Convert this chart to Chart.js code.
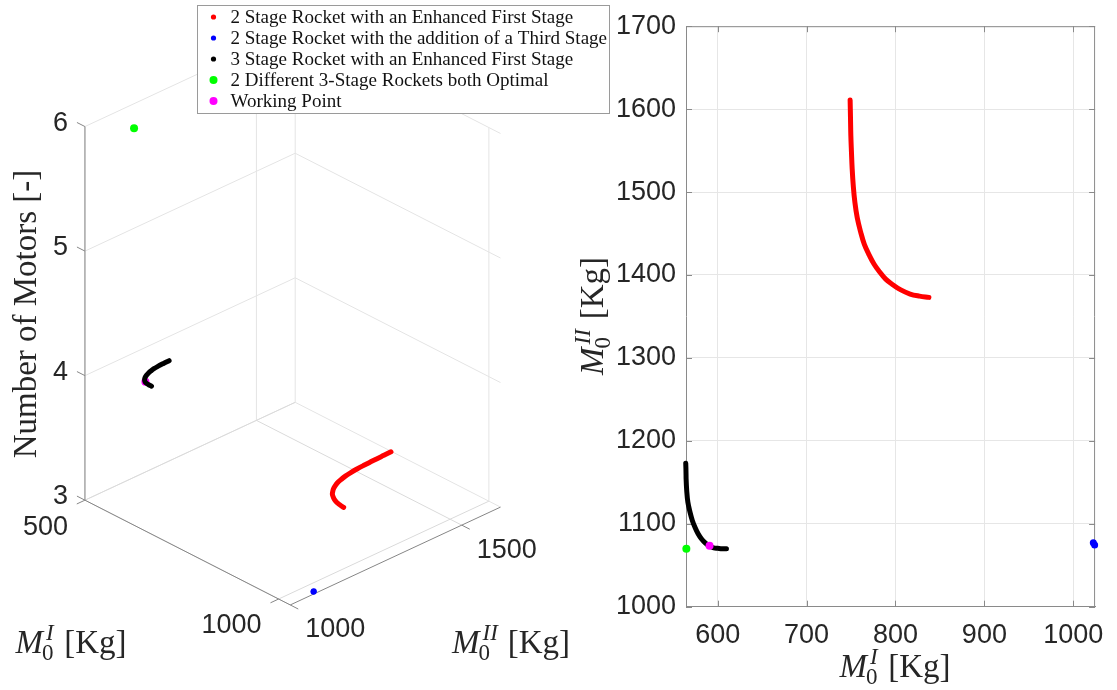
<!DOCTYPE html>
<html><head><meta charset="utf-8">
<script src="https://cdn.jsdelivr.net/npm/chart.js@4.4.1/dist/chart.umd.min.js"></script>
<style>
html,body{margin:0;padding:0;background:#fff;}
#wrap{position:relative;width:1117px;height:690px;overflow:hidden;background:#fff;}
canvas{position:absolute;top:0;}
#c3d{left:0;}
#c2d{left:560px;}
</style></head><body>
<div id="wrap"><canvas id="c3d" width="620" height="690"></canvas><canvas id="c2d" width="557" height="690"></canvas></div>
<script>
// ---------------- DATA ----------------
const seriesNames = [
  '2 Stage Rocket with an Enhanced First Stage',
  '2 Stage Rocket with the addition of a Third Stage',
  '3 Stage Rocket with an Enhanced First Stage',
  '2 Different 3-Stage Rockets both Optimal',
  'Working Point'
];
const seriesColors = ['#ff0000', '#0000ff', '#000000', '#00ff00', '#ff00ff'];

const redM0I  = [749.0, 749.4, 749.8, 750.5, 751.3, 752.5, 754.3, 757.0, 760.8, 765.0, 770.5, 776.0, 782.0, 789.0, 797.4, 806.0, 816.5, 827.0, 837.6];
const redM0II = [1611, 1590, 1568, 1548, 1528, 1508, 1488, 1469, 1452, 1437, 1424, 1413, 1404, 1395, 1388, 1382, 1377, 1374.5, 1373];
const redMotors = 3;

const blueM0I  = [1022.5, 1024.0];
const blueM0II = [1077, 1074.5];
const blueMotors = 3;

const blackM0I  = [564.1, 564.5, 565.2, 566.5, 568.9, 571.5, 574.4, 578.0, 581.7, 586.0, 590.9, 595.5, 600.0, 605.0, 609.9];
const blackM0II = [1173, 1155, 1140, 1126, 1114, 1104, 1096, 1088, 1082, 1077, 1073, 1071, 1070.5, 1070, 1070];
const blackMotors = 4;

const greenM0I  = [564.8];
const greenM0II = [1070];
const greenMotors = 6;

const magentaM0I  = [590.9];
const magentaM0II = [1073.6];
const magentaMotors = 4;

const xTicks2D = [600, 700, 800, 900, 1000];
const yTicks2D = [1000, 1100, 1200, 1300, 1400, 1500, 1600, 1700];
const m0iTicks3D = [500, 1000];
const m0iiTicks3D = [1000, 1500];
const motorTicks3D = [3, 4, 5, 6];

// ---------------- LAYOUT ----------------
const LIM3 = { m0i: [500, 1030], m0ii: [1000, 1613], mot: [3, 6] };
const BOX = { o: [82, 502], eu: [208, 106], ev: [213, -99], ew: [0, -378] };
const SERIF = '"Liberation Serif", "Times New Roman", serif';
const SANS = '"Liberation Sans", Arial, sans-serif';
const TXT = '#262626';

function uvw(a, b, m) {
  return [(a - LIM3.m0i[0]) / (LIM3.m0i[1] - LIM3.m0i[0]),
          (b - LIM3.m0ii[0]) / (LIM3.m0ii[1] - LIM3.m0ii[0]),
          (m - LIM3.mot[0]) / (LIM3.mot[1] - LIM3.mot[0])];
}
function projUVW(u, v, w) {
  return { x: BOX.o[0] + u * BOX.eu[0] + v * BOX.ev[0] + w * BOX.ew[0],
           y: BOX.o[1] + u * BOX.eu[1] + v * BOX.ev[1] + w * BOX.ew[1] };
}
function proj3(a, b, m) { const t = uvw(a, b, m); return projUVW(t[0], t[1], t[2]); }
function zip3(a, b, m) { return a.map((v, i) => proj3(v, b[i], m)); }
function zip2(a, b) { return a.map((v, i) => ({ x: v, y: b[i] })); }

function drawMath(ctx, x, y, rot, size, sup, sub) {
  const s = Math.round(size * 0.7);
  ctx.save();
  ctx.font = `italic ${size}px ${SERIF}`; const wM = ctx.measureText('M').width;
  ctx.font = `italic ${s}px ${SERIF}`; const wSup = ctx.measureText(sup).width;
  ctx.font = `${s}px ${SERIF}`; const wSub = ctx.measureText(sub).width;
  ctx.font = `${size}px ${SERIF}`; const wKg = ctx.measureText('[Kg]').width;
  const wScript = Math.max(wSup + 3, wSub);
  const gap = size * 0.3;
  const total = wM + wScript + gap + wKg;
  ctx.translate(x, y); ctx.rotate(rot);
  ctx.fillStyle = TXT; ctx.textAlign = 'left'; ctx.textBaseline = 'alphabetic';
  let cx = -total / 2;
  ctx.font = `italic ${size}px ${SERIF}`; ctx.fillText('M', cx, 0); cx += wM;
  ctx.font = `italic ${s}px ${SERIF}`; ctx.fillText(sup, cx + 3, -size * 0.38);
  ctx.font = `${s}px ${SERIF}`; ctx.fillText(sub, cx - 1, size * 0.2);
  cx += wScript + gap;
  ctx.font = `${size}px ${SERIF}`; ctx.fillText('[Kg]', cx, 0);
  ctx.restore();
}

// ---------------- 3D CHART ----------------
const box3D = {
  id: 'box3D',
  beforeDatasetsDraw(chart) {
    const ctx = chart.ctx, sx = chart.scales.x, sy = chart.scales.y;
    const P = (u, v, w) => { const p = projUVW(u, v, w); return [sx.getPixelForValue(p.x), sy.getPixelForValue(p.y)]; };
    const line = (a, b, col, lw) => { ctx.beginPath(); ctx.strokeStyle = col; ctx.lineWidth = lw || 1; ctx.moveTo(a[0], a[1]); ctx.lineTo(b[0], b[1]); ctx.stroke(); };
    const G = '#e4e4e4', A = '#868686';
    ctx.save();
    const uT = m0iTicks3D.map(t => uvw(t, LIM3.m0ii[0], LIM3.mot[0])[0]);
    const vT = m0iiTicks3D.map(t => uvw(LIM3.m0i[0], t, LIM3.mot[0])[1]);
    const wT = motorTicks3D.map(t => uvw(LIM3.m0i[0], LIM3.m0ii[0], t)[2]);
    wT.forEach(w => line(P(0, 0, w), P(0, 1, w), G));
    vT.forEach(v => line(P(0, v, 0), P(0, v, 1), G));
    wT.forEach(w => line(P(0, 1, w), P(1, 1, w), G));
    uT.forEach(u => line(P(u, 1, 0), P(u, 1, 1), G));
    uT.forEach(u => line(P(u, 0, 0), P(u, 1, 0), '#dadada'));
    vT.forEach(v => line(P(0, v, 0), P(1, v, 0), '#dadada'));
    line(P(0, 0, 0), P(0, 0, 1), A);
    line(P(0, 0, 0), P(1, 0, 0), A);
    line(P(1, 0, 0), P(1, 1, 0), A);
    const nu = Math.hypot(BOX.eu[0], BOX.eu[1]), nv = Math.hypot(BOX.ev[0], BOX.ev[1]);
    const du = [BOX.eu[0] / nu * 9, BOX.eu[1] / nu * 9], dv = [BOX.ev[0] / nv * 9, BOX.ev[1] / nv * 9];
    ctx.fillStyle = TXT; ctx.font = `27px ${SANS}`;
    motorTicks3D.forEach((t, i) => {
      const p = P(0, 0, wT[i]);
      line(p, [p[0] - du[0], p[1] - du[1]], A);
      ctx.textAlign = 'right'; ctx.textBaseline = 'middle';
      ctx.fillText(String(t), p[0] - 17, p[1] - 3.5);
    });
    m0iTicks3D.forEach((t, i) => {
      const p = P(uT[i], 0, 0);
      line(p, [p[0] - dv[0], p[1] - dv[1]], A);
      ctx.textAlign = 'right'; ctx.textBaseline = 'middle';
      ctx.fillText(String(t), p[0] - 17, p[1] + 27);
    });
    m0iiTicks3D.forEach((t, i) => {
      const p = P(1, vT[i], 0);
      line(p, [p[0] + du[0], p[1] + du[1]], A);
      ctx.textAlign = 'left'; ctx.textBaseline = 'middle';
      ctx.fillText(String(t), p[0] + 15, p[1] + 25);
    });
    ctx.save();
    ctx.translate(36, 314); ctx.rotate(-Math.PI / 2);
    ctx.font = `33px ${SERIF}`; ctx.textAlign = 'center'; ctx.textBaseline = 'alphabetic'; ctx.fillStyle = TXT;
    ctx.fillText('Number of Motors [-]', 0, 0);
    ctx.restore();
    drawMath(ctx, 71, 653, 0, 33, 'I', '0');
    drawMath(ctx, 511, 653, 0, 33, 'II', '0');
    ctx.restore();
  },
  afterDatasetsDraw(chart) {
    const ctx = chart.ctx;
    ctx.save();
    const bx = 197.5, by = 5.5, bw = 412, bh = 108;
    ctx.fillStyle = '#fff'; ctx.fillRect(bx, by, bw, bh);
    ctx.strokeStyle = '#9a9a9a'; ctx.lineWidth = 1; ctx.strokeRect(bx, by, bw, bh);
    ctx.font = `17px ${SERIF}`;
    const wl = Math.max(...seriesNames.map(s => ctx.measureText(s).width));
    const fs = 17 * 377 / wl;
    ctx.font = `${fs}px ${SERIF}`;
    const radii = [2.6, 2.6, 2.6, 4, 4];
    seriesNames.forEach((s, i) => {
      const cy = 17 + i * 21;
      ctx.beginPath(); ctx.fillStyle = seriesColors[i]; ctx.arc(213.5, cy, radii[i], 0, 2 * Math.PI); ctx.fill();
      ctx.fillStyle = '#111'; ctx.textAlign = 'left'; ctx.textBaseline = 'middle';
      ctx.fillText(s, 230.5, cy + 1);
    });
    ctx.restore();
  }
};

const lineDS = (data, col, order) => ({ data, showLine: true, borderColor: col, backgroundColor: col, borderWidth: 5, pointRadius: 0, tension: 0.4, borderCapStyle: 'round', borderJoinStyle: 'round', order, clip: false });
const dotDS = (data, col, r, order) => ({ data, showLine: false, pointRadius: r, pointBackgroundColor: col, pointBorderWidth: 0, order, clip: false });

new Chart(document.getElementById('c3d'), {
  type: 'scatter',
  data: { datasets: [
    lineDS(zip3(redM0I, redM0II, redMotors), seriesColors[0], 4),
    dotDS(zip3(blueM0I, blueM0II, blueMotors), seriesColors[1], 3, 3),
    lineDS(zip3(blackM0I, blackM0II, blackMotors), seriesColors[2], 0),
    dotDS(zip3(greenM0I, greenM0II, greenMotors), seriesColors[3], 4, 2),
    dotDS(zip3(magentaM0I, magentaM0II, magentaMotors), seriesColors[4], 4, 1)
  ]},
  options: {
    responsive: false, animation: false, devicePixelRatio: 1,
    layout: { padding: 0 },
    plugins: { legend: { display: false }, tooltip: { enabled: false } },
    scales: {
      x: { type: 'linear', display: false, min: 0, max: 620 },
      y: { type: 'linear', display: false, min: 0, max: 690, reverse: true }
    }
  },
  plugins: [box3D]
});

// ---------------- 2D CHART ----------------
const frame2D = {
  id: 'frame2D',
  beforeDatasetsDraw(chart) {
    const ctx = chart.ctx, a = chart.chartArea, sx = chart.scales.x, sy = chart.scales.y;
    ctx.save();
    ctx.strokeStyle = '#8a8a8a'; ctx.lineWidth = 1;
    ctx.beginPath();
    ctx.moveTo(a.left, a.top + 0.5); ctx.lineTo(a.right, a.top + 0.5);
    ctx.moveTo(a.right - 0.5, a.top); ctx.lineTo(a.right - 0.5, a.bottom);
    xTicks2D.forEach(v => { const x = Math.round(sx.getPixelForValue(v)) + 0.5; ctx.moveTo(x, a.bottom); ctx.lineTo(x, a.bottom - 6); ctx.moveTo(x, a.top); ctx.lineTo(x, a.top + 6); });
    yTicks2D.forEach(v => { const y = Math.round(sy.getPixelForValue(v)) + 0.5; ctx.moveTo(a.left, y); ctx.lineTo(a.left + 6, y); ctx.moveTo(a.right, y); ctx.lineTo(a.right - 6, y); });
    ctx.stroke();
    ctx.restore();
  },
  afterDraw(chart) {
    const ctx = chart.ctx;
    drawMath(ctx, 895 - 560, 677, 0, 33, 'I', '0');
    drawMath(ctx, 603 - 560, 316, -Math.PI / 2, 33, 'II', '0');
  }
};

new Chart(document.getElementById('c2d'), {
  type: 'scatter',
  data: { datasets: [
    lineDS(zip2(redM0I, redM0II), seriesColors[0], 4),
    dotDS(zip2(blueM0I, blueM0II), seriesColors[1], 3.5, 2),
    lineDS(zip2(blackM0I, blackM0II), seriesColors[2], 3),
    dotDS(zip2(greenM0I, greenM0II), seriesColors[3], 4, 1),
    dotDS(zip2(magentaM0I, magentaM0II), seriesColors[4], 4, 0)
  ]},
  options: {
    responsive: false, animation: false, devicePixelRatio: 1,
    layout: { padding: { top: 23.3, right: 12.5, left: 0, bottom: 0 } },
    plugins: { legend: { display: false }, tooltip: { enabled: false } },
    scales: {
      x: {
        type: 'linear', min: 564.4, max: 1024.5,
        afterBuildTicks: s => { s.ticks = xTicks2D.map(v => ({ value: v })); },
        afterFit: s => { s.height = 83.3; },
        grid: { color: '#e6e6e6', drawTicks: false },
        border: { color: '#8a8a8a' },
        ticks: { font: { family: SANS, size: 27 }, color: TXT, padding: 13, maxRotation: 0, autoSkip: false, callback: v => String(v) }
      },
      y: {
        type: 'linear', min: 1000, max: 1700,
        afterBuildTicks: s => { s.ticks = yTicks2D.map(v => ({ value: v })); },
        afterFit: s => { s.width = 126; },
        grid: { color: '#e6e6e6', drawTicks: false },
        border: { color: '#8a8a8a' },
        ticks: { font: { family: SANS, size: 27 }, color: TXT, padding: 10, autoSkip: false, callback: v => String(v) }
      }
    }
  },
  plugins: [frame2D]
});
</script>
</body></html>
